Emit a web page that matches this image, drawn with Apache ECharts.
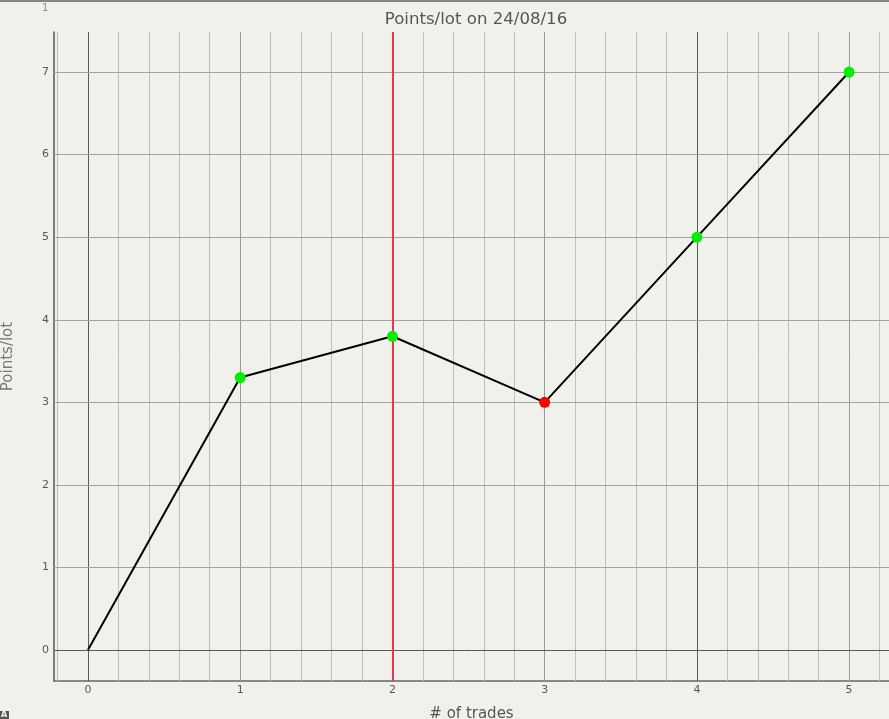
<!DOCTYPE html>
<html>
<head>
<meta charset="utf-8">
<script src="https://cdn.jsdelivr.net/npm/echarts@6/dist/echarts.min.js"></script>
<style>
html,body{margin:0;padding:0;background:#f1f1ec;}
#chart{width:889px;height:719px;}
</style>
</head>
<body>
<div id="chart"></div>
<script>
// ---- data ----
const tradeNumbers = [0, 1, 2, 3, 4, 5];
const pointsPerLot = [0, 3.3, 3.8, 3.0, 5.0, 7.0];
const markerKinds = ['none', 'up', 'up', 'down', 'up', 'up'];
const xTickLabels = [0, 1, 2, 3, 4, 5];
const yTickLabels = [0, 1, 2, 3, 4, 5, 6, 7];
const xMinorStep = 0.2;
const darkXLines = [0, 4];
const highlightX = [2];

const xMin = -0.223, xMax = 5.262;
const yMin = -0.375, yMax = 7.485;

const fontFamily = '"DejaVu Sans", Verdana, sans-serif';

// vertical grid lines
const vLines = [];
for (let i = -1; i <= 26; i++) {
  const v = Math.round(i * xMinorStep * 1000) / 1000;
  if (v < xMin || v > xMax) continue;
  let color = '#bfbfba', width = 1;
  if (Number.isInteger(v)) { color = '#9a9a96'; }
  if (darkXLines.includes(v)) { color = '#5a5a5a'; }
  if (highlightX.includes(v)) continue;
  vLines.push({ xAxis: v, lineStyle: { color, width, type: 'solid' } });
}
const hLines = yTickLabels.map(v => ({
  yAxis: v,
  lineStyle: { color: v === 0 ? '#5a5a5a' : '#a3a39e', width: 1, type: 'solid' }
}));
const redLines = highlightX.map(v => ({ xAxis: v, lineStyle: { color: '#e8394c', width: 2, type: 'solid' } }));

const colorFor = { up: '#00ee00', down: '#ff0000' };
const seriesData = tradeNumbers.map((x, i) => {
  const k = markerKinds[i];
  if (k === 'none') return { value: [x, pointsPerLot[i]], symbol: 'none' };
  return { value: [x, pointsPerLot[i]], itemStyle: { color: colorFor[k] } };
});

const chart = echarts.init(document.getElementById('chart'), null, { renderer: 'canvas' });
chart.setOption({
  backgroundColor: '#f1f1ec',
  animation: false,
  title: {
    text: 'Points/lot on 24/08/16',
    left: 471, top: 6, textAlign: 'center',
    textStyle: { fontFamily, fontSize: 16.6, fontWeight: 'normal', color: '#555555' }
  },
  graphic: [
    { type: 'rect', shape: { x: 0, y: 0, width: 889, height: 2 }, style: { fill: '#858585' }, silent: true },
    { type: 'text', left: 42, top: 3, style: { text: '1', font: '10px ' + fontFamily, fill: '#8a8fa0' }, silent: true },
    { type: 'rect', shape: { x: 0, y: 711, width: 9, height: 8 }, style: { fill: '#555555' }, silent: true },
    { type: 'text', left: 1, top: 711, style: { text: 'A', font: 'bold 8px ' + fontFamily, fill: '#f1f1ec' }, silent: true }
  ],
  grid: { left: 54, right: 0, top: 32, bottom: 38, containLabel: false, outerBoundsMode: 'none' },
  xAxis: {
    type: 'value', min: xMin, max: xMax,
    name: '# of trades', nameLocation: 'middle', nameGap: 26,
    nameTextStyle: { fontFamily, fontSize: 15, color: '#555555' },
    axisLine: { show: true, onZero: false, lineStyle: { color: '#666666', width: 1.5 } },
    axisTick: { show: false },
    splitLine: { show: false },
    axisLabel: { customValues: xTickLabels, fontFamily, fontSize: 11, color: '#555566', margin: 4 }
  },
  yAxis: {
    type: 'value', min: yMin, max: yMax,
    name: 'Points/lot', nameLocation: 'middle', nameGap: 38,
    nameTextStyle: { fontFamily, fontSize: 15, color: '#777777' },
    axisLine: { show: true, onZero: false, lineStyle: { color: '#555555', width: 1.5 } },
    axisTick: { show: false },
    splitLine: { show: false },
    axisLabel: { customValues: yTickLabels, fontFamily, fontSize: 11, color: '#555566', margin: 5 }
  },
  series: [
    {
      type: 'line', data: [], z: 1, silent: true,
      markLine: { silent: true, symbol: 'none', label: { show: false }, animation: false,
        data: vLines.concat(hLines) }
    },
    {
      type: 'line', data: [], z: 2, silent: true,
      markLine: { silent: true, symbol: 'none', label: { show: false }, animation: false,
        data: redLines }
    },
    {
      type: 'line', z: 5, data: seriesData,
      symbol: 'circle', symbolSize: 11, showSymbol: true,
      lineStyle: { color: '#000000', width: 2 },
      itemStyle: { borderWidth: 0 }
    }
  ]
});
</script>
</body>
</html>
